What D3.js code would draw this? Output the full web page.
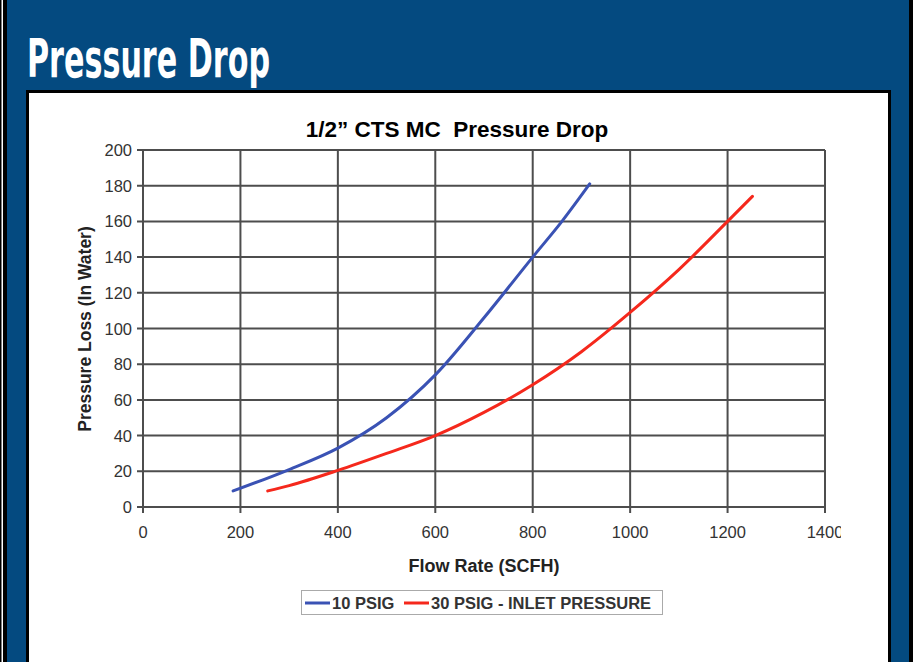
<!DOCTYPE html>
<html>
<head>
<meta charset="utf-8">
<script src="https://cdn.jsdelivr.net/npm/d3@7"></script>
<style>
  body { margin: 0; background: #fff; }
  svg { display: block; }
</style>
</head>
<body>
<div id="chart"></div>
<script>
// data
var flow10 = [185, 300, 400, 500, 600, 700, 800, 860, 917];
var loss10 = [9, 21, 33, 50, 74, 106, 140, 160, 181];
var flow30 = [256, 300, 400, 500, 600, 700, 800, 900, 1000, 1100, 1200, 1251];
var loss30 = [9, 12, 20.5, 30, 40, 53, 68.5, 87, 109, 133, 160, 174];
var seriesNames = ["10 PSIG", "30 PSIG - INLET PRESSURE"];
var xTicks = [0, 200, 400, 600, 800, 1000, 1200, 1400];
var yTicks = [0, 20, 40, 60, 80, 100, 120, 140, 160, 180, 200];

var W = 917, H = 662;
var margin = {top: 150, left: 143, right: 92, bottom: 155};
var plotW = W - margin.left - margin.right,
    plotH = H - margin.top - margin.bottom;

var svg = d3.select("#chart")
  .append("svg")
  .attr("width", W)
  .attr("height", H);

// blue page frame
svg.append("rect").attr("width", W).attr("height", H).attr("fill", "#044a80");
svg.append("rect").attr("x", 0).attr("y", 0).attr("width", 7).attr("height", H).attr("fill", "#000");
svg.append("rect").attr("x", 1.5).attr("y", 0).attr("width", 1.5).attr("height", H).attr("fill", "#fff");
svg.append("rect").attr("x", 909).attr("y", 0).attr("width", 4).attr("height", H).attr("fill", "#000");
svg.append("rect").attr("x", 913).attr("y", 0).attr("width", 4).attr("height", H).attr("fill", "#fff");

// heading, squeezed into a tall condensed shape
svg.append("text")
  .attr("transform", "translate(27,77) scale(1,1.2)")
  .attr("textLength", 243).attr("lengthAdjust", "spacingAndGlyphs")
  .style("font-family", "'DejaVu Sans Condensed', 'Liberation Sans Narrow', sans-serif")
  .style("font-stretch", "condensed")
  .style("font-weight", "bold")
  .style("font-size", "44px")
  .style("fill", "#fff")
  .text("Pressure Drop");

// white panel
svg.append("rect")
  .attr("x", 27.5).attr("y", 91.5)
  .attr("width", 862).attr("height", 590)
  .attr("fill", "#fff")
  .attr("stroke", "#000")
  .attr("stroke-width", 3);

var x = d3.scaleLinear().domain([0, 1400]).range([margin.left, margin.left + plotW]);
var y = d3.scaleLinear().domain([0, 200]).range([margin.top + plotH, margin.top]);

var gridColor = "#4d4d4d";

// gridlines
svg.append("g")
  .selectAll("line")
  .data(yTicks)
  .enter()
  .append("line")
  .attr("x1", x(0) - 6).attr("x2", x(1400))
  .attr("y1", function(d) { return y(d); })
  .attr("y2", function(d) { return y(d); })
  .attr("stroke", gridColor)
  .attr("stroke-width", 2);

svg.append("g")
  .selectAll("line")
  .data(xTicks)
  .enter()
  .append("line")
  .attr("x1", function(d) { return x(d); })
  .attr("x2", function(d) { return x(d); })
  .attr("y1", y(200)).attr("y2", y(0) + 6)
  .attr("stroke", gridColor)
  .attr("stroke-width", 2);

// tick labels
svg.append("g")
  .selectAll("text")
  .data(yTicks)
  .enter()
  .append("text")
  .attr("x", x(0) - 11)
  .attr("y", function(d) { return y(d) + 6; })
  .attr("text-anchor", "end")
  .style("font-family", "'Liberation Sans', Arial, sans-serif")
  .style("font-size", "16.5px")
  .style("fill", "#333")
  .text(function(d) { return d; });

// the last x label is cut off at the right in the original
svg.append("clipPath").attr("id", "clipx")
  .append("rect").attr("x", 0).attr("y", 0).attr("width", 841).attr("height", H);

svg.append("g")
  .attr("clip-path", "url(#clipx)")
  .selectAll("text")
  .data(xTicks)
  .enter()
  .append("text")
  .attr("x", function(d) { return x(d); })
  .attr("y", y(0) + 31)
  .attr("text-anchor", "middle")
  .style("font-family", "'Liberation Sans', Arial, sans-serif")
  .style("font-size", "16.5px")
  .style("fill", "#333")
  .text(function(d) { return d; });

// titles
svg.append("text")
  .attr("x", 457).attr("y", 137)
  .attr("text-anchor", "middle")
  .style("white-space", "pre")
  .style("font-family", "'Liberation Sans', Arial, sans-serif")
  .style("font-weight", "bold")
  .style("font-size", "22.5px")
  .style("fill", "#000")
  .text("1/2\u201D CTS MC  Pressure Drop");

svg.append("text")
  .attr("x", 484).attr("y", 572)
  .attr("text-anchor", "middle")
  .style("font-family", "'Liberation Sans', Arial, sans-serif")
  .style("font-weight", "bold")
  .style("font-size", "18px")
  .style("fill", "#222")
  .text("Flow Rate (SCFH)");

svg.append("text")
  .attr("transform", "translate(91," + 329 + ") rotate(-90)")
  .attr("text-anchor", "middle")
  .style("font-family", "'Liberation Sans', Arial, sans-serif")
  .style("font-weight", "bold")
  .style("font-size", "17.5px")
  .style("fill", "#222")
  .text("Pressure Loss (In Water)");

// curves
var line = d3.line()
  .x(function(d) { return x(d[0]); })
  .y(function(d) { return y(d[1]); })
  .curve(d3.curveMonotoneX);

var series = [
  {name: seriesNames[0], color: "#3a52b4", pts: d3.zip(flow10, loss10)},
  {name: seriesNames[1], color: "#f5281c", pts: d3.zip(flow30, loss30)}
];

svg.append("g")
  .selectAll("path")
  .data(series)
  .enter()
  .append("path")
  .attr("d", function(d) { return line(d.pts); })
  .attr("fill", "none")
  .attr("stroke", function(d) { return d.color; })
  .attr("stroke-width", 3)
  .attr("stroke-linecap", "round");

// legend
var legend = svg.append("g");
legend.append("rect")
  .attr("x", 301.5).attr("y", 590.5)
  .attr("width", 361).attr("height", 24)
  .attr("fill", "#fff")
  .attr("stroke", "#aaa");

var legendX = [305, 404];
var items = legend.selectAll("g")
  .data(series)
  .enter()
  .append("g")
  .attr("transform", function(d, i) { return "translate(" + legendX[i] + ",603)"; });
items.append("line")
  .attr("x1", 0).attr("x2", 25)
  .attr("stroke", function(d) { return d.color; })
  .attr("stroke-width", 3);
items.append("text")
  .attr("x", 27).attr("y", 6)
  .style("font-family", "'Liberation Sans', Arial, sans-serif")
  .style("font-weight", "bold")
  .style("font-size", "16.5px")
  .style("fill", "#333")
  .text(function(d) { return d.name; });
</script>
</body>
</html>
